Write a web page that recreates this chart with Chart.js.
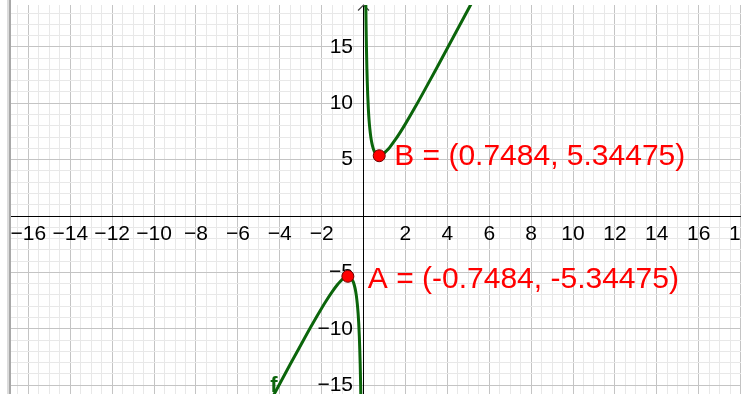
<!DOCTYPE html>
<html><head><meta charset="utf-8">
<script src="https://cdn.jsdelivr.net/npm/chart.js@4/dist/chart.umd.min.js"></script>
<style>html,body{margin:0;padding:0;background:#fff;overflow:hidden}#wrap{position:relative;width:741px;height:394px}canvas{display:block}</style>
</head><body><div id="wrap"><canvas id="c" width="741" height="394"></canvas></div>
<script>
// Curve f, right branch (x > 0)
const rightX = [0.1, 0.11, 0.12, 0.13, 0.14, 0.16, 0.18, 0.2, 0.23, 0.26, 0.3, 0.35, 0.4, 0.45, 0.5, 0.55, 0.6, 0.65, 0.7, 0.7484, 0.8, 0.9, 1.0, 1.1, 1.25, 1.5, 1.75, 2.0, 2.5, 3.0, 3.5, 4.0, 4.5, 5.0, 5.5];
const rightY = [20.4, 18.6, 17.1, 15.9, 14.8, 13.1, 11.8, 10.7, 9.5, 8.6, 7.75, 6.97, 6.44, 6.07, 5.8, 5.62, 5.49, 5.42, 5.38, 5.34475, 5.38, 5.46, 5.6, 5.78, 6.09, 6.72, 7.42, 8.17, 9.77, 11.45, 13.15, 14.87, 16.6, 18.33, 20.06];
// Curve f, left branch (x < 0)
const leftX = [-5.5, -5.0, -4.5, -4.0, -3.5, -3.0, -2.5, -2.0, -1.75, -1.5, -1.25, -1.1, -1.0, -0.9, -0.8, -0.7484, -0.7, -0.65, -0.6, -0.55, -0.5, -0.45, -0.4, -0.35, -0.3, -0.26, -0.23, -0.2, -0.18, -0.16, -0.14, -0.13, -0.12, -0.11, -0.1];
const leftY = [-20.06, -18.33, -16.6, -14.87, -13.15, -11.45, -9.77, -8.17, -7.42, -6.72, -6.09, -5.78, -5.6, -5.46, -5.38, -5.34475, -5.38, -5.42, -5.49, -5.62, -5.8, -6.07, -6.44, -6.97, -7.75, -8.6, -9.5, -10.7, -11.8, -13.1, -14.8, -15.9, -17.1, -18.6, -20.4];
// Marked points A and B
const pointX = [-0.7484, 0.7484];
const pointY = [-5.34475, 5.34475];
const pointLabels = ['A = (-0.7484, -5.34475)', 'B = (0.7484, 5.34475)'];
const functionName = 'f';
// Labelled ticks
const xTickLabels = [-16, -14, -12, -10, -8, -6, -4, -2, 2, 4, 6, 8, 10, 12, 14, 16, 18];
const yTickLabels = [-15, -10, -5, 5, 10, 15];

const GREEN = '#0b650b';
const RED = '#ff0000';
const FONT = 'Liberation Sans';
const fmt = v => (v < 0 ? '\u2212' + Math.abs(v) : String(v));

const toPts = (xs, ys) => xs.map((x, i) => ({x, y: ys[i]}));
const noPad = s => { s.paddingLeft = 0; s.paddingRight = 0; s.paddingTop = 0; s.paddingBottom = 0; };

const deco = {
  id: 'deco',
  beforeDatasetsDraw(chart) {
    const c = chart.ctx, xs = chart.scales.x;
    const x0 = xs.getPixelForValue(0);
    const top = chart.chartArea.top;
    c.save();
    c.strokeStyle = '#444'; c.lineWidth = 1.2;
    c.beginPath();
    c.moveTo(x0 - 5.5, top + 5.5); c.lineTo(x0, top); c.lineTo(x0 + 5.5, top + 5.5);
    c.stroke();
    c.restore();
  },
  afterDraw(chart) {
    const c = chart.ctx, xs = chart.scales.x, ys = chart.scales.y;
    c.save();
    // left panel border
    c.fillStyle = '#dcdcdc'; c.fillRect(7, 0, 2, chart.height);
    c.fillStyle = '#a8a8a8'; c.fillRect(9, 0, 2, chart.height);
    // point labels
    c.fillStyle = RED;
    c.font = '30px "' + FONT + '"';
    c.textBaseline = 'alphabetic';
    c.textAlign = 'left';
    const offs = [[20, 12], [15, 9.5]];
    pointLabels.forEach((t, i) => {
      const px = xs.getPixelForValue(pointX[i]), py = ys.getPixelForValue(pointY[i]);
      c.fillText(t, px + offs[i][0], py + offs[i][1]);
    });
    // function name
    c.fillStyle = GREEN;
    c.font = 'bold 22px "' + FONT + '"';
    c.fillText(functionName, xs.getPixelForValue(-4.45), ys.getPixelForValue(-15.6));
    c.restore();
  }
};

new Chart(document.getElementById('c'), {
  type: 'scatter',
  data: {
    datasets: [
      {data: toPts(rightX, rightY), showLine: true, borderColor: GREEN, borderWidth: 3, pointRadius: 0, cubicInterpolationMode: 'monotone', order: 2},
      {data: toPts(leftX, leftY), showLine: true, borderColor: GREEN, borderWidth: 3, pointRadius: 0, cubicInterpolationMode: 'monotone', order: 2},
      {data: toPts(pointX, pointY), showLine: false, pointRadius: 6, pointBackgroundColor: RED, pointBorderColor: '#6a0000', pointBorderWidth: 1, order: 1}
    ]
  },
  options: {
    responsive: false, animation: false, devicePixelRatio: 1,
    layout: {autoPadding: false, padding: {left: 11, top: 5, right: 0, bottom: 0}},
    plugins: {legend: {display: false}, tooltip: {enabled: false}},
    scales: {
      x: {
        type: 'linear', min: -16.83, max: 18.02, position: {y: 0},
        afterBuildTicks: s => { const t = []; for (let k = -40; k <= 40; k++) { const v = k / 2; if (v >= s.min && v <= s.max) t.push({value: v}); } s.ticks = t; },
        afterFit: noPad,
        grid: {drawTicks: false, lineWidth: 1, color: ctx => (ctx.tick && ctx.tick.value % 2 === 0 ? '#c4c4c4' : '#e8e8e8')},
        border: {display: true, color: '#000', width: 1},
        ticks: {autoSkip: false, maxRotation: 0, minRotation: 0, padding: 6, color: '#000', font: {family: FONT, size: 21},
          callback: v => (xTickLabels.includes(v) ? fmt(v) : '')}
      },
      y: {
        type: 'linear', min: -15.78, max: 18.71, position: {x: 0},
        afterBuildTicks: s => { const t = []; for (let k = -20; k <= 20; k++) { if (k >= s.min && k <= s.max) t.push({value: k}); } s.ticks = t; },
        afterFit: noPad,
        grid: {drawTicks: false, lineWidth: 1, color: ctx => (ctx.tick && ctx.tick.value % 5 === 0 ? '#c4c4c4' : '#e8e8e8')},
        border: {display: true, color: '#000', width: 1},
        ticks: {autoSkip: false, padding: 9, color: '#000', font: {family: FONT, size: 21},
          callback: v => (yTickLabels.includes(v) ? fmt(v) + '\u2002' : '')}
      }
    }
  },
  plugins: [deco]
});
</script></body></html>
